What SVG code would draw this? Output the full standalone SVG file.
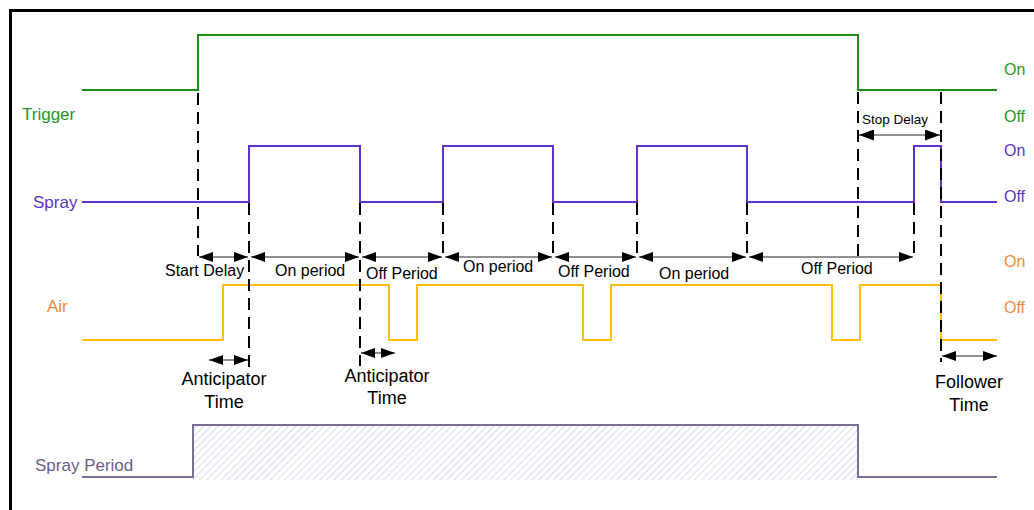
<svg xmlns="http://www.w3.org/2000/svg" width="1034" height="510" viewBox="0 0 1034 510">
  <style>
    text { font-family: "Liberation Sans", Arial, sans-serif; }
    .sig { fill: none; stroke-width: 2; stroke-linejoin: miter; }
    .trig { stroke: #1a8c1a; }
    .spray { stroke: #6530c8; }
    .air { stroke: #ffbf00; }
    .sp { stroke: #7c6e98; }
    .dash { fill: none; stroke: #000; stroke-width: 2; stroke-dasharray: 12 7; }
    .arr { fill: none; stroke: #222; stroke-width: 1; marker-start: url(#ah); marker-end: url(#ah); }
    .arrb { fill: none; stroke: #222; stroke-width: 1; marker-start: url(#ahb); marker-end: url(#ahb); }
    .lbl { font-size: 16px; fill: #000; }
    .big { font-size: 18px; fill: #000; text-anchor: middle; }
    .g { fill: #2a962a; font-size: 16px; }
    .p { fill: #5a36c0; font-size: 16px; }
    .o { fill: #f0883a; font-size: 16px; }
  </style>
  <defs>
    <marker id="ah" markerUnits="userSpaceOnUse" markerWidth="14" markerHeight="10" refX="14" refY="5" orient="auto-start-reverse">
      <path d="M0,0 L14,5 L0,10 z" fill="#000"/>
    </marker>
    <marker id="ahb" markerUnits="userSpaceOnUse" markerWidth="15" markerHeight="11" refX="15" refY="5.5" orient="auto-start-reverse">
      <path d="M0,0 L15,5.5 L0,11 z" fill="#000"/>
    </marker>
    <pattern id="hatch" patternUnits="userSpaceOnUse" width="5" height="5" patternTransform="rotate(45)">
      <line x1="0" y1="0" x2="0" y2="5" stroke="#c3c9dc" stroke-width="1.3"/>
    </pattern>
  </defs>

  <rect width="1034" height="510" fill="#fff"/>
  <rect x="10.5" y="10.5" width="1040" height="520" fill="none" stroke="#000" stroke-width="3"/>

  <g id="trigger">
    <polyline class="sig trig" points="82,90 198,90 198,35 858,35 858,90 997,90"/>
    <text class="g" x="22" y="120" style="font-size:17px">Trigger</text>
    <text class="g" x="1004" y="75">On</text>
    <text class="g" x="1004" y="122">Off</text>
  </g>

  <g id="spray">
    <polyline class="sig spray" points="82,202 249,202 249,146 360,146 360,202 443,202 443,146 553,146 553,202 637,202 637,146 747,146 747,202 914,202 914,146 941,146 941,202 997,202"/>
    <text class="p" x="33" y="208" style="font-size:17px">Spray</text>
    <text class="p" x="1004" y="156">On</text>
    <text class="p" x="1004" y="202">Off</text>
  </g>

  <g id="air">
    <polyline class="sig air" points="82,340 223,340 223,285 389,285 389,340 417,340 417,285 583,285 583,340 611,340 611,285 832,285 832,340 860,340 860,285 941,285 941,340 997,340"/>
    <text class="o" x="47" y="312" style="font-size:17px">Air</text>
    <text class="o" x="1004" y="267">On</text>
    <text class="o" x="1004" y="313">Off</text>
  </g>

  <g id="spray-period">
    <rect x="193" y="425" width="665" height="55" fill="url(#hatch)"/>
    <polyline class="sig sp" points="82,477 193,477 193,425 858,425 858,477 997,477"/>
    <text x="35" y="471" fill="#6b5d8c" style="font-size:17px">Spray Period</text>
  </g>

  <g id="connectors">
    <line class="dash" x1="198" y1="93" x2="198" y2="256"/>
    <line class="dash" x1="249" y1="203" x2="249" y2="367"/>
    <line class="dash" x1="360" y1="203" x2="360" y2="366"/>
    <line class="dash" x1="443" y1="203" x2="443" y2="257"/>
    <line class="dash" x1="553" y1="203" x2="553" y2="257"/>
    <line class="dash" x1="637" y1="203" x2="637" y2="257"/>
    <line class="dash" x1="747" y1="203" x2="747" y2="257"/>
    <line class="dash" x1="858" y1="92" x2="858" y2="257"/>
    <line class="dash" x1="914" y1="203" x2="914" y2="257"/>
    <line class="dash" x1="941" y1="92" x2="941" y2="362"/>

    <line class="arr" x1="199" y1="257" x2="248" y2="257"/>
    <line class="arr" x1="251" y1="257" x2="359" y2="257"/>
    <line class="arr" x1="362" y1="257" x2="442" y2="257"/>
    <line class="arr" x1="445" y1="257" x2="552" y2="257"/>
    <line class="arr" x1="555" y1="257" x2="636" y2="257"/>
    <line class="arr" x1="639" y1="257" x2="746" y2="257"/>
    <line class="arr" x1="749" y1="257" x2="913" y2="257"/>
    <line class="arrb" x1="859" y1="135" x2="940" y2="135"/>
    <line class="arr" x1="209" y1="360" x2="248" y2="360"/>
    <line class="arr" x1="361" y1="353" x2="395" y2="353"/>
    <line class="arr" x1="942" y1="356" x2="997" y2="356"/>
  </g>

  <g id="labels">
    <text class="lbl" x="165" y="276">Start Delay</text>
    <text class="lbl" x="275" y="276">On period</text>
    <text class="lbl" x="366" y="279">Off Period</text>
    <text class="lbl" x="463" y="272">On period</text>
    <text class="lbl" x="558" y="277">Off Period</text>
    <text class="lbl" x="659" y="279">On period</text>
    <text class="lbl" x="801" y="274">Off Period</text>
    <text class="lbl" x="862" y="124" style="font-size:13.5px">Stop Delay</text>
    <text class="big" x="224" y="385">Anticipator</text>
    <text class="big" x="224" y="408">Time</text>
    <text class="big" x="387" y="382">Anticipator</text>
    <text class="big" x="387" y="404">Time</text>
    <text class="big" x="969" y="388">Follower</text>
    <text class="big" x="969" y="411">Time</text>
  </g>
</svg>
